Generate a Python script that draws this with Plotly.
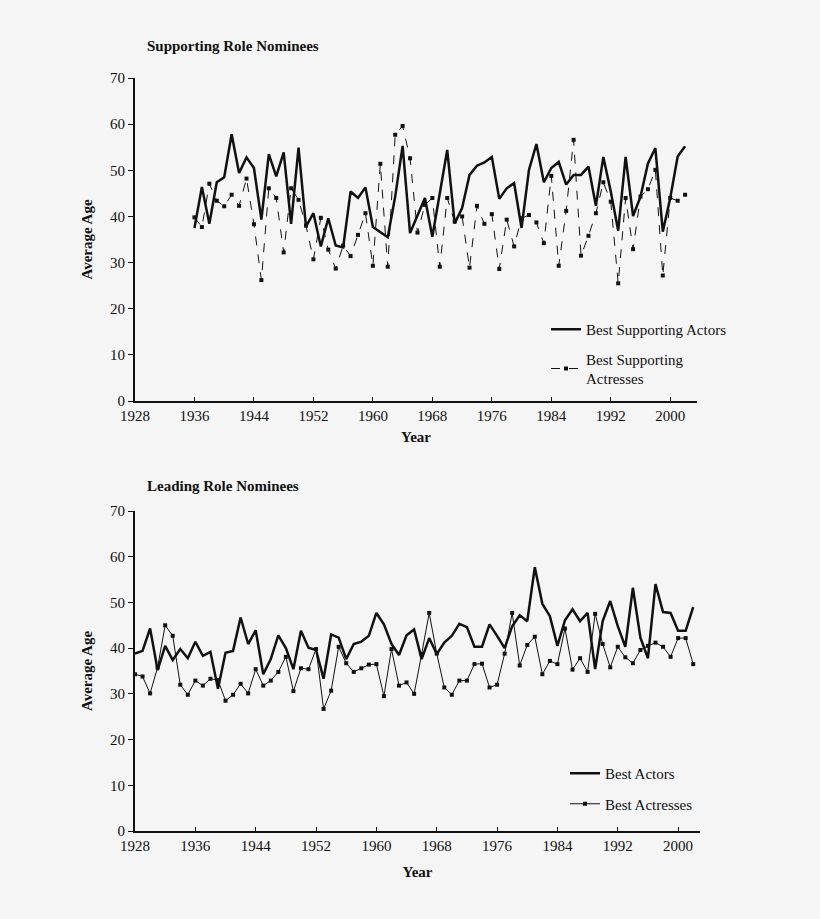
import plotly.graph_objects as go

# Supporting role nominees, 1936-2002
SUPP_YEARS = list(range(1936, 2003))
SUPP_ACTORS = [
    37.5, 46.4, 38.4, 47.4, 48.5, 57.8, 49.4, 52.8, 50.5, 39.3,
    53.5, 48.7, 53.9, 38.4, 54.9, 37.8, 40.7, 33.5, 39.6, 33.7,
    33.3, 45.4, 44.0, 46.3, 37.7, 36.6, 35.5, 44.3, 55.3, 36.4,
    40.2, 44.0, 35.6, 45.0, 54.4, 38.5, 41.8, 49.0, 51.0, 51.7,
    52.9, 43.8, 46.1, 47.2, 37.5, 50.1, 55.7, 47.4, 50.5, 51.8,
    46.9, 49.0, 49.0, 50.8, 42.3, 52.9, 45.4, 36.9, 52.9, 40.1,
    44.3, 51.5, 54.8, 36.7, 44.0, 53.0, 55.2,
]
SUPP_ACTRESSES = [
    39.8, 37.7, 47.1, 43.4, 42.2, 44.7, 42.3, 48.2, 38.3, 26.2,
    46.1, 44.0, 32.2, 46.1, 43.6, 38.0, 30.7, 39.7, 32.8, 28.7,
    33.7, 31.4, 36.0, 40.7, 29.3, 51.4, 29.1, 57.7, 59.6, 52.6,
    36.5, 42.5, 44.0, 29.1, 44.0, 38.9, 40.0, 28.9, 42.3, 38.4,
    40.5, 28.6, 39.3, 33.5, 39.6, 40.3, 38.7, 34.2, 48.8, 29.3,
    41.2, 56.6, 31.5, 35.8, 40.7, 47.4, 43.2, 25.5, 44.0, 32.9,
    44.3, 45.9, 50.1, 27.2, 44.0, 43.4, 44.7,
]

# Leading role nominees, 1928-2002
LEAD_YEARS = list(range(1928, 2003))
LEAD_ACTORS = [
    38.8, 39.4, 44.3, 35.2, 40.5, 37.4, 39.8, 37.8, 41.4, 38.3,
    39.2, 31.1, 39.0, 39.4, 46.7, 40.9, 43.9, 34.3, 37.6, 42.8,
    40.0, 35.4, 43.8, 40.1, 39.6, 33.3, 43.0, 42.3, 37.6, 40.9,
    41.4, 42.7, 47.7, 45.2, 40.9, 38.5, 42.8, 44.1, 37.6, 42.2,
    38.7, 41.2, 42.7, 45.3, 44.6, 40.3, 40.3, 45.2, 42.7, 40.0,
    44.8, 47.2, 45.9, 57.7, 49.7, 47.0, 40.5, 46.1, 48.5, 45.9,
    47.7, 35.4, 45.9, 50.3, 44.8, 40.3, 53.2, 42.3, 37.8, 54.0,
    47.9, 47.7, 43.8, 43.8, 49.0,
]
LEAD_ACTRESSES = [
    34.3, 33.8, 30.1, 35.8, 45.0, 42.7, 32.0, 29.8, 32.9, 31.8,
    33.3, 33.0, 28.5, 29.8, 32.2, 30.1, 35.4, 31.8, 32.9, 34.8,
    38.1, 30.6, 35.6, 35.4, 39.8, 26.7, 30.7, 40.3, 36.7, 34.8,
    35.6, 36.4, 36.5, 29.5, 39.8, 31.8, 32.5, 30.0, 38.7, 47.7,
    38.8, 31.4, 29.8, 32.9, 32.9, 36.5, 36.6, 31.4, 32.0, 38.8,
    47.7, 36.2, 40.7, 42.5, 34.3, 37.2, 36.5, 44.3, 35.3, 37.8,
    34.8, 47.5, 40.9, 35.8, 40.3, 38.0, 36.7, 39.6, 40.5, 41.2,
    40.3, 38.1, 42.2, 42.2, 36.5,
]

X_TICKS = list(range(1928, 2001, 8))
Y_TICKS = list(range(0, 71, 10))

W, H = 820, 919
SERIF = "Liberation Serif, Times New Roman, serif"
INK = "#111111"
BG = "#f5f5f5"


def px_x(v):
    return v / W


def px_y(v):
    return 1 - v / H


fig = go.Figure()

fig.add_trace(go.Scatter(
    x=SUPP_YEARS, y=SUPP_ACTORS, name="Best Supporting Actors",
    mode="lines", line=dict(color=INK, width=2.5),
    xaxis="x", yaxis="y", legend="legend", legendgroup="a",
))
fig.add_trace(go.Scatter(
    x=SUPP_YEARS, y=SUPP_ACTRESSES, name="Best Supporting<br>Actresses",
    mode="lines+markers", line=dict(color=INK, width=1, dash="dash"),
    marker=dict(symbol="square", size=4, color=INK),
    xaxis="x", yaxis="y", legend="legend", legendgroup="b",
))
fig.add_trace(go.Scatter(
    x=LEAD_YEARS, y=LEAD_ACTORS, name="Best Actors",
    mode="lines", line=dict(color=INK, width=2.5),
    xaxis="x2", yaxis="y2", legend="legend2", legendgroup="c",
))
fig.add_trace(go.Scatter(
    x=LEAD_YEARS, y=LEAD_ACTRESSES, name="Best Actresses",
    mode="lines+markers", line=dict(color=INK, width=1),
    marker=dict(symbol="square", size=4, color=INK),
    xaxis="x2", yaxis="y2", legend="legend2", legendgroup="d",
))

tick_font = dict(family=SERIF, size=15, color=INK)
title_font = dict(family=SERIF, size=15, color=INK)

xcommon = dict(
    tickmode="array", tickvals=X_TICKS, ticks="inside", ticklen=4,
    tickcolor=INK, showline=True, linecolor=INK, linewidth=1.5,
    showgrid=False, zeroline=False, tickfont=tick_font, automargin=False,
)
ycommon = dict(
    range=[0, 70], tickmode="array", tickvals=Y_TICKS, ticks="outside",
    ticklen=5, tickcolor=INK, showline=True, linecolor=INK, linewidth=2,
    showgrid=False, zeroline=False, tickfont=tick_font, automargin=False,
    title=dict(text="<b>Average Age</b>", font=title_font, standoff=14),
)

fig.update_layout(
    width=W, height=H,
    margin=dict(l=0, r=0, t=0, b=0),
    paper_bgcolor=BG, plot_bgcolor=BG,
    font=dict(family=SERIF, color=INK),
    xaxis=dict(xcommon, domain=[px_x(135), px_x(697)], range=[1928, 2003.6], anchor="y",
               title=dict(text="<b>Year</b>", font=title_font, standoff=9)),
    yaxis=dict(ycommon, domain=[px_y(401), px_y(78)], anchor="x"),
    xaxis2=dict(xcommon, domain=[px_x(135), px_x(700)], range=[1928, 2002.9], anchor="y2",
                title=dict(text="<b>Year</b>", font=title_font, standoff=14)),
    yaxis2=dict(ycommon, domain=[px_y(831), px_y(511)], anchor="x2"),
    legend=dict(
        x=px_x(546), y=px_y(313), xanchor="left", yanchor="top",
        bgcolor="rgba(0,0,0,0)", font=dict(family=SERIF, size=15, color=INK),
        tracegroupgap=7, itemwidth=30,
    ),
    legend2=dict(
        x=px_x(565), y=px_y(757), xanchor="left", yanchor="top",
        bgcolor="rgba(0,0,0,0)", font=dict(family=SERIF, size=15, color=INK),
        tracegroupgap=8, itemwidth=30,
    ),
    annotations=[
        dict(text="<b>Supporting Role Nominees</b>", x=px_x(145), y=px_y(46),
             xref="paper", yref="paper", xanchor="left", yanchor="middle",
             showarrow=False, font=dict(family=SERIF, size=15, color=INK)),
        dict(text="<b>Leading Role Nominees</b>", x=px_x(145), y=px_y(486),
             xref="paper", yref="paper", xanchor="left", yanchor="middle",
             showarrow=False, font=dict(family=SERIF, size=15, color=INK)),
    ],
)

# the page body has a default 8px margin; drop it so the chart fills the window
fig.write_html(
    "out.html",
    config={"displayModeBar": False},
    post_script="document.body.style.margin='0';",
)
